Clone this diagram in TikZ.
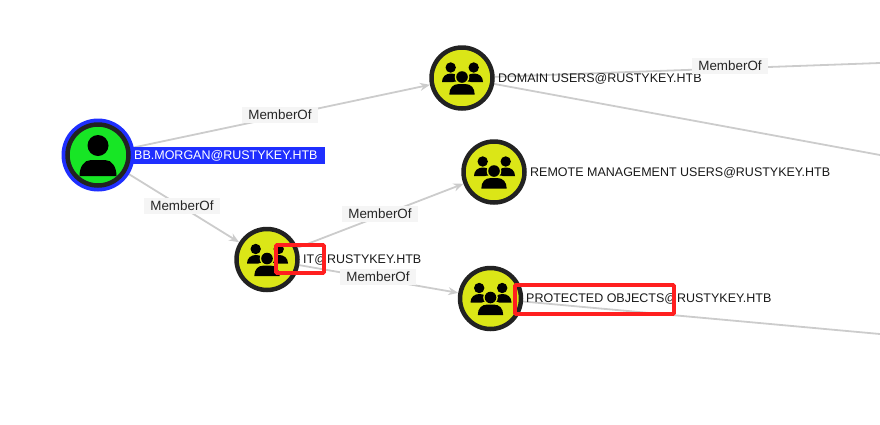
\documentclass[tikz,border=0pt]{standalone}
\usepackage{fontspec}
\setmainfont{Liberation Sans}
\usetikzlibrary{backgrounds,arrows.meta}
\definecolor{linegray}{HTML}{CCCCCC}
\definecolor{labelgray}{HTML}{F5F5F5}
\definecolor{ringdark}{HTML}{222222}
\definecolor{usergreen}{HTML}{17E625}
\definecolor{groupyellow}{HTML}{DBE617}
\definecolor{selblue}{HTML}{1F2FFF}
\definecolor{markred}{HTML}{FF1F1F}
\tikzset{
	usernode/.style={circle,draw=ringdark,line width=4.5pt,fill=usergreen,minimum size=61pt,inner sep=0pt},
	groupnode/.style={circle,draw=ringdark,line width=4.5pt,fill=groupyellow,minimum size=61pt,inner sep=0pt},
	namelabel/.style={anchor=west,inner sep=0pt,font=\fontsize{12.5}{14}\selectfont,text=black!90},
	edgelabel/.style={fill=labelgray,inner xsep=6pt,inner ysep=3.5pt,font=\fontsize{13.4}{15}\selectfont,text=black!85},
	memberline/.style={draw=linegray,line width=1.8pt},
	memberarrow/.style={memberline,-{Stealth[length=10pt,width=8pt]}},
	markbox/.style={draw=markred,line width=3.6pt,rounded corners=1pt},
	pics/groupicon/.style={code={
		\fill (-11.3,-10.5) circle (5.2);
		\fill (11.7,-10.5) circle (5.2);
		\fill (-20,4) .. controls (-20,-1.5) and (-16,-4.5) .. (-11,-4.5) .. controls (-6,-4.5) and (-2,-1.5) .. (-2,4) -- cycle;
		\fill (21,4) .. controls (21,-1.5) and (17,-4.5) .. (12,-4.5) .. controls (7,-4.5) and (3,-1.5) .. (3,4) -- cycle;
		\fill[groupyellow] (0,-1) circle (7.3);
		\fill[groupyellow] (-15,18) -- (-15,8) -- (-7,3.5) -- (7,3.5) -- (15,8) -- (15,18) -- cycle;
		\fill (0,-1) circle (5.8);
		\fill (-12.7,16.5) .. controls (-12.7,10) and (-9,6) .. (-3,6) -- (3,6) .. controls (9,6) and (12.7,10) .. (12.7,16.5) -- cycle;
	}},
	pics/usericon/.style={code={
		\fill (0,-9.5) circle (10.5);
		\fill (-18.5,21) .. controls (-18.5,12) and (-14,5) .. (-7,5) -- (7,5) .. controls (14,5) and (18.5,12) .. (18.5,21) -- cycle;
	}}
}
\begin{document}
\begin{tikzpicture}[x=1pt,y=-1pt]
	\useasboundingbox (0,0) rectangle (880,424);

	%start node
	\fill[selblue] (98,155) circle (36.5);
	\node[usernode] (bbmorgan) at (98,155) {};
	\pic at (98,155) {usericon};

	%group nodes
	\node[groupnode] (itgroup) at (267,259.5) {};
	\node[groupnode] (domainusers) at (462,78) {};
	\node[groupnode] (remoteusers) at (494,172) {};
	\node[groupnode] (protected) at (490.5,298.5) {};
	\pic at (267,259.5) {groupicon};
	\pic at (462,78) {groupicon};
	\pic at (494,172) {groupicon};
	\pic at (490.5,298.5) {groupicon};

	%off page ends
	\coordinate (offa) at (880,63);
	\coordinate (offb) at (880,155);
	\coordinate (offc) at (880,334);

	%names
	\node[namelabel,text=white,fill=selblue,text width=190pt,inner xsep=1pt,minimum height=17pt] (bbname) at (133,155.5) {BB.MORGAN@RUSTYKEY.HTB};
	\node[namelabel] (itname) at (303,260) {IT@RUSTYKEY.HTB};
	\node[namelabel] (domainname) at (498,79) {DOMAIN USERS@RUSTYKEY.HTB};
	\node[namelabel] (remotename) at (530,173) {REMOTE MANAGEMENT USERS@RUSTYKEY.HTB};
	\node[namelabel] (protectedname) at (526,299) {PROTECTED OBJECTS@RUSTYKEY.HTB};

	%edge labels
	\node[edgelabel] (laba) at (280,115) {MemberOf};
	\node[edgelabel] (labb) at (182,206) {MemberOf};
	\node[edgelabel] (labc) at (380,214) {MemberOf};
	\node[edgelabel] (labd) at (378,277) {MemberOf};
	\node[edgelabel] (labe) at (730,66) {MemberOf};

	%edges
	\begin{scope}[on background layer]
		\draw[memberarrow] (bbmorgan) -- (domainusers);
		\draw[memberarrow] (bbmorgan) -- (itgroup);
		\draw[memberarrow] (itgroup) -- (remoteusers);
		\draw[memberarrow] (itgroup) -- (protected);
		\draw[memberline] (domainusers) -- (offa);
		\draw[memberline] (domainusers) -- (offb);
		\draw[memberline] (protected) -- (offc);
	\end{scope}

	%red boxes
	\node[markbox,minimum width=48pt,minimum height=28pt,inner sep=0pt] (marka) at (300,259) {};
	\node[markbox,minimum width=159pt,minimum height=29pt,inner sep=0pt] (markb) at (594.5,299.5) {};
\end{tikzpicture}
\end{document}
